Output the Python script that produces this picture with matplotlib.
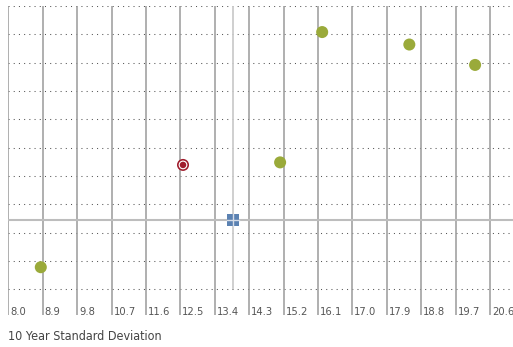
import matplotlib
matplotlib.use("Agg")
import matplotlib.pyplot as plt
import matplotlib.transforms as mtransforms

# risk (x) / return (y) values
x_ticks = [8.0, 8.9, 9.8, 10.7, 11.6, 12.5, 13.4, 14.3, 15.2, 16.1, 17.0, 17.9, 18.8, 19.7, 20.6]
y_grid = [0, 1, 2, 3, 4, 5, 6, 7, 8, 9, 10]

peer_x = [8.85, 15.11, 16.21, 18.49, 20.21]
peer_y = [0.78, 4.48, 9.08, 8.64, 7.92]

fund_x = [12.57]
fund_y = [4.39]

bench_x = [13.88]
bench_y = [2.45]

W, H = 513, 347
fig = plt.figure(figsize=(W / 100, H / 100), dpi=100)
ax = fig.add_axes([8.3 / W, 1 - 315 / H, 1 - 8.3 / W, 309 / H])

px_per_x = 38.23
px_per_y = 28.33
ax.set_xlim(8.0, 8.0 + (W - 8.3) / px_per_x)
ax.set_ylim(10 - 309 / px_per_y, 10)
ax.axis("off")

font = dict(family="DejaVu Sans", fontstretch="condensed")

# horizontal dotted grid
for y in y_grid:
    ax.axhline(y, color="#555555", lw=0.75, linestyle=(0, (1, 4)), zorder=1)

# vertical grid lines
for x in x_ticks:
    ax.axvline(x, color="#9a9a9a", lw=1.1, zorder=1)

# tick labels sit just right of each grid line, on the bottom edge
trans = mtransforms.blended_transform_factory(ax.transData, ax.transAxes)
offset = mtransforms.ScaledTranslation(2.0 / 100, 0, fig.dpi_scale_trans)
for x in x_ticks:
    ax.text(x, 0.0, f"{x:.1f}", transform=trans + offset, ha="left", va="baseline",
            fontsize=8, color="#555555", **font)

# benchmark crosshair
ax.axhline(bench_y[0], color="#bdbdbd", lw=1.5, zorder=2)
ax.plot([bench_x[0], bench_x[0]], [0.05, 10], color="#cccccc", lw=1.3, zorder=2)

# points
ax.scatter(peer_x, peer_y, s=75, color="#9aaa3a", edgecolors="none", zorder=4)
ax.scatter(bench_x, bench_y, s=80, marker="s", color="#5b82b2", edgecolors="none", zorder=4)
ax.plot([bench_x[0] - 0.15, bench_x[0] + 0.15], [bench_y[0], bench_y[0]], color="#d6dde8", lw=1, zorder=5)
ax.plot([bench_x[0], bench_x[0]], [bench_y[0] - 0.2, bench_y[0] + 0.2], color="#d6dde8", lw=1, zorder=5)
ax.scatter(fund_x, fund_y, s=75, color="#a01c2c", edgecolors="none", zorder=4)
ax.scatter(fund_x, fund_y, s=40, color="white", edgecolors="none", zorder=5)
ax.scatter(fund_x, fund_y, s=22, color="#a01c2c", edgecolors="none", zorder=6)

fig.text(8 / W, 1 - 337 / H, "10 Year Standard Deviation", ha="left", va="center",
         fontsize=9, color="#444444", **font)

fig.savefig("out.png", dpi=100)
